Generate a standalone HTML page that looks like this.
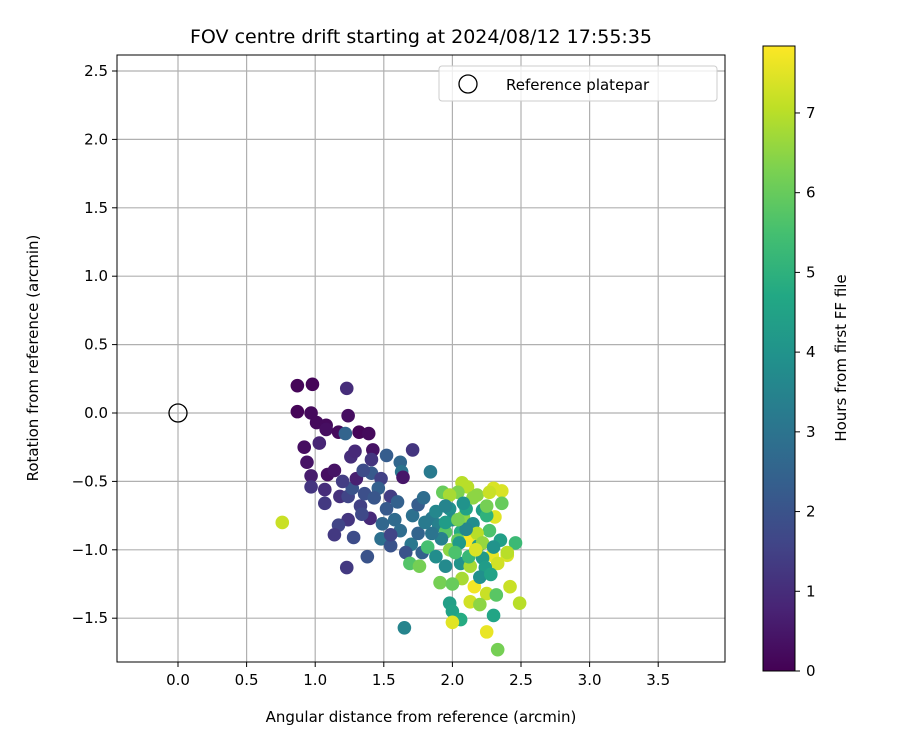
<!DOCTYPE html>
<html><head><meta charset="utf-8"><style>
body{margin:0;background:#fff;}
svg text{font-family:"DejaVu Sans","Liberation Sans",sans-serif;fill:#000;}
</style></head><body>
<svg id="c" width="900" height="750" viewBox="0 0 900 750">
<defs><linearGradient id="vg" x1="0" y1="1" x2="0" y2="0">
<stop offset="0" stop-color="#440154"/><stop offset="0.1" stop-color="#482475"/><stop offset="0.2" stop-color="#414487"/><stop offset="0.3" stop-color="#355f8d"/><stop offset="0.4" stop-color="#2a788e"/><stop offset="0.5" stop-color="#21918c"/><stop offset="0.6" stop-color="#22a884"/><stop offset="0.7" stop-color="#44bf70"/><stop offset="0.8" stop-color="#7ad151"/><stop offset="0.9" stop-color="#bddf26"/><stop offset="1" stop-color="#fde725"/></linearGradient></defs>
<text x="421" y="43" font-size="19" text-anchor="middle">FOV centre drift starting at 2024/08/12 17:55:35</text>
<g id="grid"></g><g id="pts"></g><g id="axes"></g>
<rect x="117" y="55" width="608" height="607" fill="none" stroke="#000" stroke-width="1"/>
<text x="421" y="722" font-size="15" text-anchor="middle">Angular distance from reference (arcmin)</text>
<text x="38" y="358" font-size="15" text-anchor="middle" transform="rotate(-90 38 358)">Rotation from reference (arcmin)</text>
<g>
<rect x="439" y="66" width="278" height="35" rx="3" fill="#fff" fill-opacity="0.8" stroke="#ccc"/>
<circle cx="468" cy="84" r="9" fill="none" stroke="#000" stroke-width="1.3"/>
<text x="506" y="90" font-size="15">Reference platepar</text></g>
<rect x="763" y="46" width="32" height="625" fill="url(#vg)" stroke="#000"/>
<g id="cb"></g>
<text x="846" y="358" font-size="15" text-anchor="middle" transform="rotate(-90 846 358)">Hours from first FF file</text>
</svg>
<script>
const xs=[0.87,0.98,0.87,0.97,1.01,1.08,1.08,0.92,0.94,0.97,1.03,1.17,1.32,1.39,1.24,1.23,1.22,1.42,1.71,1.09,1.14,1.26,1.29,1.41,1.52,1.62,1.63,1.64,0.97,1.07,1.18,1.07,1.24,1.27,1.41,1.48,1.55,1.46,1.84,1.24,1.17,1.14,1.23,1.38,1.28,1.49,1.71,1.75,1.79,1.65,0.76,1.33,1.36,1.43,1.52,1.58,1.48,1.55,1.62,1.70,1.75,1.85,1.88,1.78,1.66,1.30,1.20,1.35,1.40,1.34,1.55,1.90,1.60,
2.07,2.11,1.93,2.04,2.18,2.30,2.36,2.36,2.31,2.22,1.98,2.08,2.15,2.27,1.95,2.06,2.11,2.19,2.46,1.82,1.98,2.04,2.29,2.40,2.22,2.33,1.69,1.76,1.95,2.06,2.13,2.24,1.91,2.07,2.16,2.25,2.32,2.42,2.49,2.13,2.20,1.98,2.00,2.06,2.00,2.30,2.25,2.33,
2.00,2.10,2.15,2.25,1.95,2.05,2.12,2.18,2.10,1.92,2.02,2.20,2.28,2.35,2.40,1.85,1.80,2.00,1.98,2.08,2.22,2.30,2.17,2.04,1.88,1.95,2.25,2.27];
const ys=[0.20,0.21,0.01,0.00,-0.07,-0.09,-0.12,-0.25,-0.36,-0.46,-0.22,-0.14,-0.14,-0.15,-0.02,0.18,-0.15,-0.27,-0.27,-0.45,-0.42,-0.32,-0.28,-0.34,-0.31,-0.36,-0.43,-0.47,-0.54,-0.56,-0.61,-0.66,-0.61,-0.55,-0.44,-0.48,-0.61,-0.55,-0.43,-0.78,-0.82,-0.89,-1.13,-1.05,-0.91,-0.81,-0.75,-0.67,-0.62,-1.57,-0.80,-0.68,-0.59,-0.62,-0.70,-0.78,-0.92,-0.97,-0.86,-0.96,-0.88,-0.77,-0.72,-1.02,-1.02,-0.48,-0.50,-0.42,-0.77,-0.74,-0.89,-0.82,-0.65,
-0.51,-0.54,-0.58,-0.58,-0.60,-0.55,-0.57,-0.66,-0.76,-0.71,-0.70,-0.76,-0.81,-0.86,-0.87,-0.87,-0.93,-0.97,-0.95,-0.98,-1.00,-0.93,-1.04,-1.04,-1.06,-1.10,-1.10,-1.12,-1.12,-1.10,-1.12,-1.13,-1.24,-1.21,-1.27,-1.32,-1.33,-1.27,-1.39,-1.38,-1.40,-1.39,-1.45,-1.51,-1.53,-1.48,-1.60,-1.73,
-0.78,-0.70,-0.62,-0.75,-0.80,-0.95,-1.05,-0.88,-0.85,-0.92,-1.02,-1.20,-1.18,-0.93,-1.02,-0.88,-0.80,-1.25,-0.60,-0.66,-0.95,-0.98,-1.00,-0.78,-1.05,-0.68,-0.68,-0.58];
const hours=[0.1,0.1,0.1,0.2,0.2,0.2,0.3,0.3,0.4,0.6,0.8,0.2,0.1,0.2,0.3,1.0,2.5,0.4,1.2,0.3,0.4,1.0,0.9,1.2,2.3,2.6,3.0,0.5,1.2,1.0,1.1,1.3,1.6,2.0,2.2,1.5,1.4,2.4,3.2,1.2,1.6,1.3,1.3,2.0,1.8,2.6,2.9,2.3,2.8,3.5,7.2,1.5,1.9,2.1,2.2,2.7,2.9,2.0,2.8,3.1,2.5,3.2,3.6,2.4,2.0,0.7,1.4,1.8,0.9,1.7,1.6,3.4,2.4,
7.0,7.0,6.0,6.3,6.5,7.4,7.4,6.0,7.5,4.3,3.9,6.5,3.8,5.6,5.8,4.8,7.8,4.2,5.3,5.5,6.5,6.0,7.6,7.4,4.2,7.3,5.7,6.2,3.7,4.0,6.8,4.3,6.2,6.8,7.7,7.2,5.8,7.2,7.0,7.3,6.5,4.4,4.5,4.8,7.5,4.6,7.6,6.2,
3.8,4.5,6.5,5.0,4.3,4.2,5.2,7.0,3.6,3.4,5.6,3.9,4.5,4.4,7.0,3.0,3.2,6.0,6.8,4.0,6.6,4.0,7.4,6.2,3.8,3.5,6.2,7.2];
const xTicks=[0,0.5,1,1.5,2,2.5,3,3.5];
const yTicks=[-1.5,-1,-0.5,0,0.5,1,1.5,2,2.5];
const cbTicks=[0,1,2,3,4,5,6,7];
const X=v=>178+v*137.2, Y=v=>413-v*136.8, HMAX=7.84, CB=v=>671-v*(625/HMAX);
const NS='http://www.w3.org/2000/svg';
function mk(tag,attrs,parent){const e=document.createElementNS(NS,tag);for(const k in attrs)e.setAttribute(k,attrs[k]);parent.appendChild(e);return e;}
const stops=['#440154','#482475','#414487','#355f8d','#2a788e','#21918c','#22a884','#44bf70','#7ad151','#bddf26','#fde725'];
function vir(f){f=Math.max(0,Math.min(1,f))*10;const i=Math.min(9,Math.floor(f)),t=f-i;const a=stops[i],b=stops[i+1];const p=(s,o)=>parseInt(s.substr(o,2),16);let c='#';for(const o of [1,3,5]){c+=Math.round(p(a,o)+(p(b,o)-p(a,o))*t).toString(16).padStart(2,'0');}return c;}
const g=document.getElementById('grid'),ax=document.getElementById('axes'),pts=document.getElementById('pts'),cb=document.getElementById('cb');
xTicks.forEach(v=>{const l=mk('line',{x1:X(v),x2:X(v),y1:55,y2:662,stroke:'#b0b0b0','stroke-width':1.2},g);


mk('line',{x1:X(v),x2:X(v),y1:662,y2:667,stroke:'#000'},ax);
const t=mk('text',{x:X(v),y:685,'font-size':15,'text-anchor':'middle'},ax);t.textContent=v.toFixed(1);

});
yTicks.forEach(v=>{const l=mk('line',{x1:117,x2:725,y1:Y(v),y2:Y(v),stroke:'#b0b0b0','stroke-width':1.2},g);


mk('line',{x1:112,x2:117,y1:Y(v),y2:Y(v),stroke:'#000'},ax);
const t=mk('text',{x:108,y:Y(v)+5,'font-size':15,'text-anchor':'end'},ax);t.textContent=(v<0?'\u2212':'')+Math.abs(v).toFixed(1);

});
xs.forEach((x,i)=>{const c=mk('circle',{cx:X(x),cy:Y(ys[i]),r:6.8,fill:vir(hours[i]/HMAX)},pts);

});
const r=mk('circle',{cx:X(0),cy:Y(0),r:9,fill:'none',stroke:'#000','stroke-width':1.3},pts);


cbTicks.forEach(v=>{mk('line',{x1:795,x2:800,y1:CB(v),y2:CB(v),stroke:'#000'},cb);
const t=mk('text',{x:806,y:CB(v)+5,'font-size':15},cb);t.textContent=v;

});
</script>
</body></html>
